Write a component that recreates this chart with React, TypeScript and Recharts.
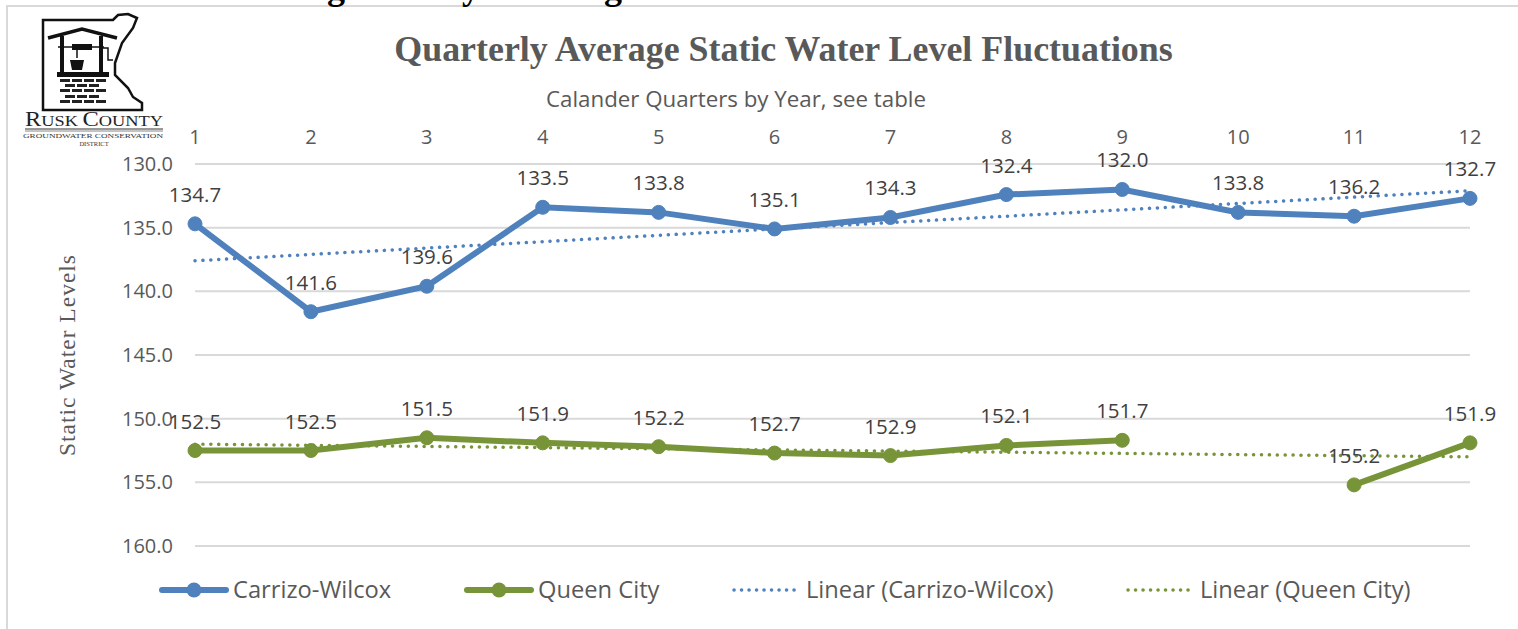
import React from "react";
import { LineChart, Line, XAxis, YAxis, CartesianGrid, Legend, LabelList } from "recharts";

const quarters = [1, 2, 3, 4, 5, 6, 7, 8, 9, 10, 11, 12];
const carrizo = [134.7, 141.6, 139.6, 133.4, 133.8, 135.1, 134.2, 132.4, 132.0, 133.8, 134.1, 132.7];
const queen = [152.5, 152.5, 151.5, 151.9, 152.2, 152.7, 152.9, 152.1, 151.7, null, 155.2, 151.9];
const carrizoLabels = ["134.7", "141.6", "139.6", "133.5", "133.8", "135.1", "134.3", "132.4", "132.0", "133.8", "136.2", "132.7"];
const queenLabels = ["152.5", "152.5", "151.5", "151.9", "152.2", "152.7", "152.9", "152.1", "151.7", "", "155.2", "151.9"];
const carrizoTrend = [137.6, null, null, null, null, null, null, null, null, null, null, 132.1];
const queenTrend = [152.0, null, null, null, null, null, null, null, null, null, null, 153.0];
const yTicks = [130, 135, 140, 145, 150, 155, 160];

const rows = quarters.map((q, i) => ({
  q,
  carrizo: carrizo[i],
  queen: queen[i],
  carrizoLabel: carrizoLabels[i],
  queenLabel: queenLabels[i],
  carrizoTrend: carrizoTrend[i],
  queenTrend: queenTrend[i],
}));

const BLUE = "#4F81BD";
const GREEN = "#789439";
const SANS = "'Open Sans', sans-serif";
const SERIF = "'Liberation Serif', serif";
const INK = "#595959";

const legendItems = [
  { name: "Carrizo-Wilcox", color: BLUE, x: 160, solid: true },
  { name: "Queen City", color: GREEN, x: 465, solid: true },
  { name: "Linear (Carrizo-Wilcox)", color: BLUE, x: 733, solid: false },
  { name: "Linear (Queen City)", color: GREEN, x: 1127, solid: false },
];

const renderLabel = (props: any) => {
  const { x, y, value } = props;
  if (!value || y == null) return null;
  return (
    <text x={x} y={y - 30} textAnchor="middle" dominantBaseline="central" fontFamily={SANS} fontSize={20.5} fill="#404040">
      {value}
    </text>
  );
};

const ChartLegend = () => (
  <svg width={1518} height={40} style={{ display: "block" }}>
    {legendItems.map((it) => (
      <g key={it.name}>
        {it.solid ? (
          <>
            <line x1={it.x + 2} x2={it.x + 66} y1={20} y2={20} stroke={it.color} strokeWidth={6} strokeLinecap="round" />
            <circle cx={it.x + 34} cy={20} r={7.5} fill={it.color} />
          </>
        ) : (
          <line x1={it.x + 1} x2={it.x + 67} y1={20} y2={20} stroke={it.color} strokeWidth={3.5} strokeLinecap="round" strokeDasharray="0.1 7.4" />
        )}
        <text x={it.x + 73} y={28} fontFamily={SANS} fontSize={23.7} fill={INK}>
          {it.name}
        </text>
      </g>
    ))}
  </svg>
);

const brickRows = [
  { y: 79, xs: [60, 72, 84, 96] },
  { y: 84, xs: [65, 77, 89] },
  { y: 89, xs: [60, 72, 84, 96] },
  { y: 95, xs: [65, 77, 89] },
  { y: 100, xs: [60, 72, 84, 96] },
];

const Logo = () => (
  <g>
    <path
      d="M43 20 L113 20 L118 15 L128 14 L137 18 L133 28 L122 43 L115 63 L115 75 L128 88 L133 97 L142 103 L142 110 L43 110 Z"
      fill="none"
      stroke="#111"
      strokeWidth={2.5}
    />
    <path d="M48 38 L82 29 L117 38" fill="none" stroke="#111" strokeWidth={3.5} />
    <rect x={60} y={36} width={4} height={36} fill="#111" />
    <rect x={99} y={36} width={4} height={36} fill="#111" />
    <line x1={58} x2={104} y1={47} y2={47} stroke="#111" strokeWidth={1.5} />
    <rect x={72} y={44} width={20} height={6} fill="#111" />
    <line x1={77} x2={77} y1={50} y2={58} stroke="#111" strokeWidth={1.5} />
    <path d="M70 60 L84 60 L82 70 L72 70 Z" fill="#111" />
    <path d="M103 48 L108 48 L108 60 L113 60" fill="none" stroke="#111" strokeWidth={1.5} />
    <rect x={57} y={72} width={52} height={5} fill="#111" />
    {brickRows.map((r) =>
      r.xs.map((x) => <rect key={`${r.y}-${x}`} x={x} y={r.y} width={10} height={3} fill="#222" />)
    )}
    <text x={94} y={126} textAnchor="middle" fontFamily={SERIF} fontSize={20} fill="#222" textLength={138} lengthAdjust="spacingAndGlyphs">
      <tspan>R</tspan>
      <tspan fontSize={15}>USK </tspan>
      <tspan>C</tspan>
      <tspan fontSize={15}>OUNTY</tspan>
    </text>
    <line x1={25} x2={163} y1={129} y2={129} stroke="#333" strokeWidth={1} />
    <line x1={25} x2={163} y1={131} y2={131} stroke="#888" strokeWidth={1} />
    <text x={93} y={138} textAnchor="middle" fontFamily={SERIF} fontSize={6.5} fill="#333" textLength={140} lengthAdjust="spacingAndGlyphs">
      GROUNDWATER CONSERVATION
    </text>
    <text x={94} y={146} textAnchor="middle" fontFamily={SERIF} fontSize={6.5} fill="#333">
      DISTRICT
    </text>
  </g>
);

export default function App() {
  return (
    <div style={{ position: "absolute", left: 0, top: 0, width: 1518, height: 629, overflow: "hidden", background: "#fff" }}>
      <div
        style={{
          position: "absolute",
          left: 6,
          top: 5,
          width: 1512,
          height: 624,
          borderLeft: "2px solid #D9D9D9",
          borderTop: "2px solid #D9D9D9",
          boxSizing: "border-box",
        }}
      />
      <LineChart
        width={1518}
        height={629}
        data={rows}
        margin={{ top: 134, right: 48, bottom: 43, left: 0 }}
        style={{ position: "absolute", left: 0, top: 0 }}
      >
        <CartesianGrid vertical={false} stroke="#D9D9D9" strokeWidth={2} />
        <XAxis
          dataKey="q"
          orientation="top"
          height={30}
          axisLine={false}
          tickLine={false}
          tickSize={0}
          tickMargin={20}
          interval={0}
          padding={{ left: 0, right: 0 }}
          tick={{ fontFamily: SANS, fontSize: 20, fill: INK }}
        />
        <YAxis
          reversed
          width={195}
          domain={[130, 160]}
          ticks={yTicks}
          interval={0}
          axisLine={false}
          tickLine={false}
          tickSize={0}
          tickMargin={22}
          tickFormatter={(v: number) => v.toFixed(1)}
          tick={{ fontFamily: SANS, fontSize: 20, fill: INK }}
          label={{
            value: "Static Water Levels",
            angle: -90,
            position: "center",
            dx: -31,
            style: { fontFamily: SERIF, fontSize: 23.5, fill: INK, letterSpacing: 1 },
          }}
        />
        <Line dataKey="carrizoTrend" name="Linear (Carrizo-Wilcox)" connectNulls stroke={BLUE} strokeWidth={3.5} strokeLinecap="round" strokeDasharray="0.1 7.8" dot={false} activeDot={false} isAnimationActive={false} />
        <Line dataKey="queenTrend" name="Linear (Queen City)" connectNulls stroke={GREEN} strokeWidth={3.5} strokeLinecap="round" strokeDasharray="0.1 7.8" dot={false} activeDot={false} isAnimationActive={false} />
        <Line dataKey="carrizo" name="Carrizo-Wilcox" stroke={BLUE} strokeWidth={6} dot={{ r: 7, fill: BLUE, stroke: BLUE, strokeWidth: 1 }} activeDot={false} isAnimationActive={false}>
          <LabelList dataKey="carrizoLabel" content={renderLabel} />
        </Line>
        <Line dataKey="queen" name="Queen City" stroke={GREEN} strokeWidth={6} dot={{ r: 7, fill: GREEN, stroke: GREEN, strokeWidth: 1 }} activeDot={false} isAnimationActive={false}>
          <LabelList dataKey="queenLabel" content={renderLabel} />
        </Line>
        <Legend
          verticalAlign="bottom"
          height={40}
          content={<ChartLegend />}
          wrapperStyle={{ left: 0, bottom: 19, width: 1518, height: 40 }}
        />
        <text x={783.5} y={61} textAnchor="middle" fontFamily={SERIF} fontWeight="bold" fontSize={35.9} fill={INK}>
          Quarterly Average Static Water Level Fluctuations
        </text>
        <text x={736} y={107} textAnchor="middle" fontFamily={SANS} fontSize={22.3} fill={INK}>
          Calander Quarters by Year, see table
        </text>
        <text x={327} y={-1} fontFamily={SERIF} fontWeight="bold" fontSize={36} fill="#000">g</text>
        <text x={462} y={-1} fontFamily={SERIF} fontWeight="bold" fontSize={36} fill="#000">y</text>
        <text x={604} y={-1} fontFamily={SERIF} fontWeight="bold" fontSize={36} fill="#000">g</text>
        <Logo />
      </LineChart>
    </div>
  );
}
